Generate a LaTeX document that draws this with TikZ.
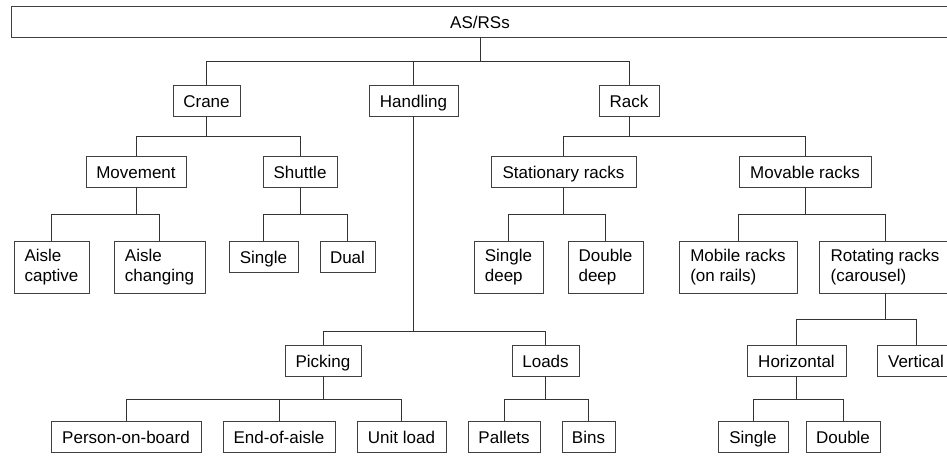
\documentclass[tikz,border=0pt]{standalone}
\usepackage{fontspec}
\setmainfont{Liberation Sans}
\tikzset{
  plain/.style={draw=black!75, line width=0.9pt, rectangle, inner sep=0pt,
    font=\fontsize{17}{20}\selectfont},
  box/.style={plain, minimum height=31, text height=14.5, text depth=1.5},
  tallbox/.style={plain, minimum height=52, align=left},
  link/.style={draw=black!80, line width=0.9pt}
}
\begin{document}
\begin{tikzpicture}[x=1pt, y=-1pt]
  \useasboundingbox (0,0) rectangle (947,456);
  \clip (0,0) rectangle (947,456);
  % top level
  \node[box, minimum width=938] (root) at (480,21.5) {AS/RSs};
  \node[box, minimum width=67] (crane) at (206.5,100.5) {Crane};
  \node[box, minimum width=89] (handling) at (413.5,100.5) {Handling};
  \node[box, minimum width=60] (rack) at (629,100.5) {Rack};
  % crane
  \node[box, minimum width=100] (movement) at (136,171.5) {Movement};
  \node[box, minimum width=74] (shuttle) at (300,171.5) {Shuttle};
  \node[tallbox, minimum width=75] (captive) at (51.5,267) {Aisle\\captive};
  \node[tallbox, minimum width=91] (changing) at (159.5,267) {Aisle\\changing};
  \node[box, minimum width=69] (single) at (263.5,256.5) {Single};
  \node[box, minimum width=55] (dual) at (347.5,256.5) {Dual};
  % handling
  \node[box, minimum width=76] (picking) at (323,360.5) {Picking};
  \node[box, minimum width=67] (loads) at (545.5,360.5) {Loads};
  \node[box, minimum width=150] (person) at (126,436.5) {Person-on-board};
  \node[box, minimum width=112] (endaisle) at (279,436.5) {End-of-aisle};
  \node[box, minimum width=89] (unitload) at (401.5,436.5) {Unit load};
  \node[box, minimum width=72] (pallets) at (504,436.5) {Pallets};
  \node[box, minimum width=53] (bins) at (588.5,436.5) {Bins};
  % rack
  \node[box, minimum width=145] (stationary) at (563.5,171.5) {Stationary racks};
  \node[box, minimum width=132] (movable) at (805,171.5) {Movable racks};
  \node[tallbox, minimum width=69] (sdeep) at (508.5,267) {Single\\deep};
  \node[tallbox, minimum width=75] (ddeep) at (605.5,267) {Double\\deep};
  \node[tallbox, minimum width=118] (mobile) at (738,267) {Mobile racks\\(on rails)};
  \node[tallbox, minimum width=132] (rotating) at (885,267) {Rotating racks\\(carousel)};
  \node[box, minimum width=99] (horizontal) at (796.5,360.5) {Horizontal};
  \node[box, minimum width=78] (vertical) at (916,360.5) {Vertical};
  \node[box, minimum width=70] (hsingle) at (753,436.5) {Single};
  \node[box, minimum width=74] (hdouble) at (843,436.5) {Double};
  % connectors
  \foreach \c in {crane,handling,rack}
    \draw[link] (root.south) -- ++(0,24) -| (\c.north);
  \foreach \c in {movement,shuttle}
    \draw[link] (crane.south) -- ++(0,20) -| (\c.north);
  \foreach \c in {captive,changing}
    \draw[link] (movement.south) -- ++(0,27) -| (\c.north);
  \foreach \c in {single,dual}
    \draw[link] (shuttle.south) -- ++(0,27) -| (\c.north);
  \foreach \c in {picking,loads}
    \draw[link] (handling.south) -- ++(0,215) -| (\c.north);
  \foreach \c in {person,endaisle,unitload}
    \draw[link] (picking.south) -- ++(0,23) -| (\c.north);
  \foreach \c in {pallets,bins}
    \draw[link] (loads.south) -- ++(0,23) -| (\c.north);
  \foreach \c in {stationary,movable}
    \draw[link] (rack.south) -- ++(0,20) -| (\c.north);
  \foreach \c in {sdeep,ddeep}
    \draw[link] (stationary.south) -- ++(0,27) -| (\c.north);
  \foreach \c in {mobile,rotating}
    \draw[link] (movable.south) -- ++(0,27) -| (\c.north);
  \foreach \c in {horizontal,vertical}
    \draw[link] (rotating.south) -- ++(0,26) -| (\c.north);
  \foreach \c in {hsingle,hdouble}
    \draw[link] (horizontal.south) -- ++(0,23) -| (\c.north);
\end{tikzpicture}
\end{document}
